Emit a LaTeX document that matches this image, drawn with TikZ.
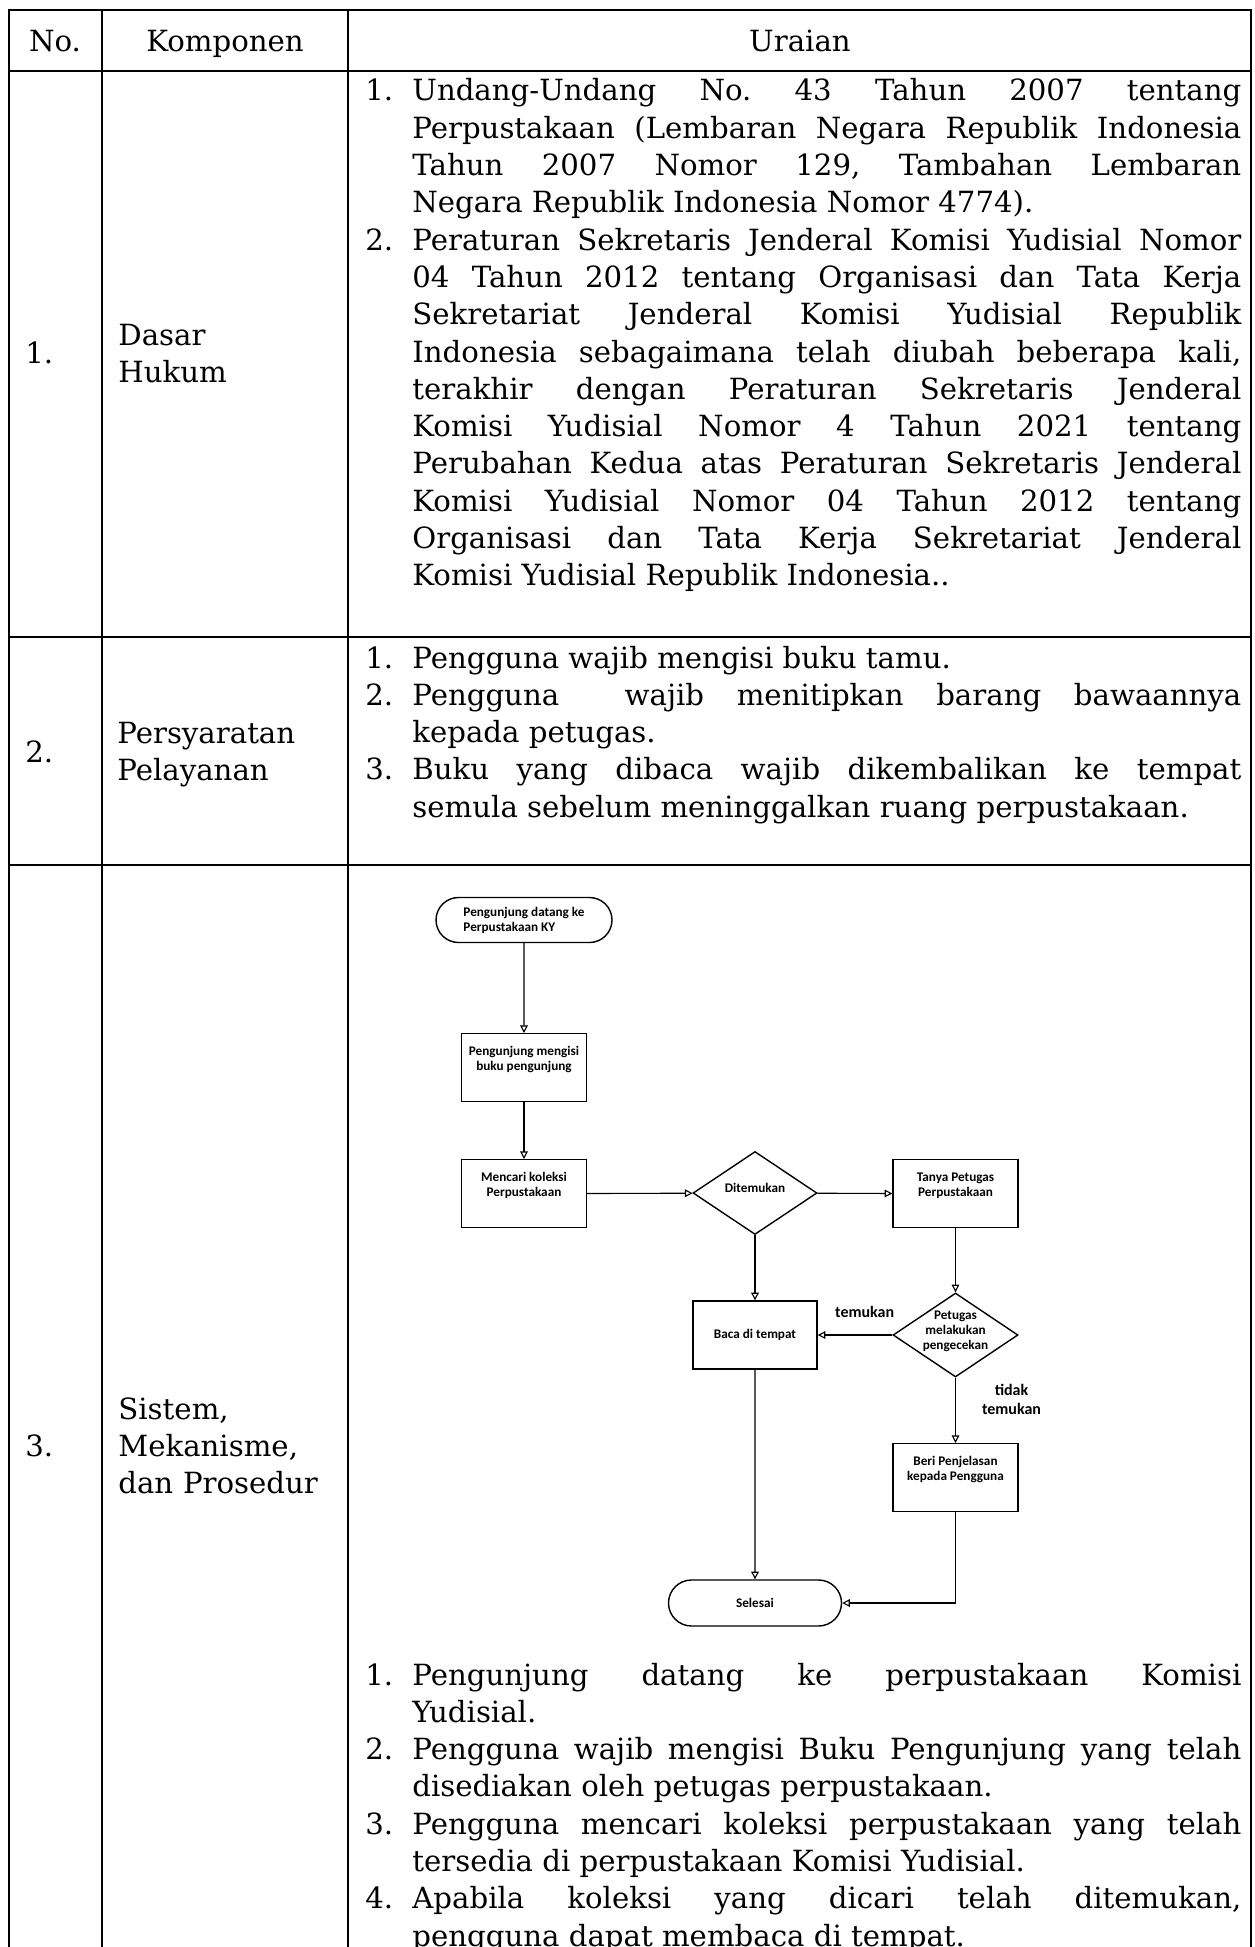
\documentclass[tikz,border=0pt]{standalone}
\usepackage{fontspec}
\setmainfont{DejaVu Serif}
\newfontfamily\fcfont{Carlito}
\usetikzlibrary{arrows.meta,shapes.geometric,shapes.misc}

\newcommand\bodyfont{\fontsize{14.6}{18.65}\selectfont\frenchspacing\hyphenpenalty=10000\exhyphenpenalty=10000\tolerance=10000\parindent=0pt\parskip=0pt}
\newcommand\fcsize{\fontsize{6.6}{7.5}\selectfont}
\newcommand\lblsize{\fontsize{8}{9.4}\selectfont}
\newcommand\fitem[2]{\hangindent=23.5pt\hangafter=1\noindent\makebox[23.5pt][l]{#1}#2\par}
\newcommand\boxtxt[1]{\parbox[c][34pt][t]{62pt}{\centering\rule{0pt}{11pt}#1}}
\newcommand\dtxt[1]{\makebox[0pt]{\smash{$\vcenter{\hbox{\begin{tabular}{@{}c@{}}#1\end{tabular}}}$}}}

\tikzset{
  tbl/.style={line width=1pt, line cap=rect},
  body/.style={inner sep=0pt, font=\bodyfont, anchor=base west},
  para/.style={body, text width=438pt, align=justify},
  lab/.style={body, text width=115pt, align=left},
  fc/.style={draw, line width=0.7pt, inner sep=0pt, font=\fcfont\bfseries\fcsize},
  proc/.style={fc, rectangle, minimum width=62.5pt, minimum height=34pt},
  term/.style={fc, rounded rectangle, minimum height=22.5pt},
  dec/.style={fc, diamond, minimum width=62pt, minimum height=41.5pt},
  flow/.style={line width=0.55pt, -{Triangle[open,length=3.8pt,width=3.8pt]}},
  lbl/.style={inner sep=0pt, font=\fcfont\bfseries\lblsize, align=center},
}

\begin{document}
\begin{tikzpicture}[x=0.5pt, y=-0.5pt]
\useasboundingbox (0,0) rectangle (1254,1947);
\clip (0,0) rectangle (1254,1947);

% table grid
\draw[tbl] (9,10) -- (1251,10);
\draw[tbl] (9,71) -- (1251,71);
\draw[tbl] (9,637) -- (1251,637);
\draw[tbl] (9,865) -- (1251,865);
\draw[tbl] (9,10) -- (9,1960);
\draw[tbl] (102,10) -- (102,1960);
\draw[tbl] (348,10) -- (348,1960);
\draw[tbl] (1251,10) -- (1251,1960);

% header
\node[body, anchor=base] (hno) at (55,52) {No.};
\node[body, anchor=base] (hkomp) at (225,52) {Komponen};
\node[body, anchor=base] (hur) at (800,52) {Uraian};

% row 1
\node[body] (n1) at (25,364) {1.};
\node[lab] (k1) at (118,345.5) {Dasar\\Hukum};
\node[para] (u1) at (365,101) {%
\fitem{1.}{Undang-Undang No. 43 Tahun 2007 tentang\linebreak Perpustakaan (Lembaran Negara Republik Indonesia\linebreak Tahun 2007 Nomor 129, Tambahan Lembaran\linebreak Negara Republik Indonesia Nomor 4774).}%
\fitem{2.}{Peraturan Sekretaris Jenderal Komisi Yudisial Nomor\linebreak 04 Tahun 2012 tentang Organisasi dan Tata Kerja\linebreak Sekretariat Jenderal Komisi Yudisial Republik\linebreak Indonesia sebagaimana telah diubah beberapa kali,\linebreak terakhir dengan Peraturan Sekretaris Jenderal\linebreak Komisi Yudisial Nomor 4 Tahun 2021 tentang\linebreak Perubahan Kedua atas Peraturan Sekretaris Jenderal\linebreak Komisi Yudisial Nomor 04 Tahun 2012 tentang\linebreak Organisasi dan Tata Kerja Sekretariat Jenderal\linebreak Komisi Yudisial Republik Indonesia..}};

% row 2
\node[body] (n2) at (25,762) {2.};
\node[lab] (k2) at (117,743) {Persyaratan\\Pelayanan};
\node[para] (u2) at (365,668) {%
\fitem{1.}{Pengguna wajib mengisi buku tamu.}%
\fitem{2.}{Pengguna\ \ wajib menitipkan barang bawaannya\linebreak kepada petugas.}%
\fitem{3.}{Buku yang dibaca wajib dikembalikan ke tempat\linebreak semula sebelum meninggalkan ruang perpustakaan.}};

% row 3
\node[body] (n3) at (25,1456) {3.};
\node[lab] (k3) at (118,1419) {Sistem,\\Mekanisme,\\dan Prosedur};
\node[para] (u3) at (365,1685) {%
\fitem{1.}{Pengunjung datang ke perpustakaan Komisi\linebreak Yudisial.}%
\fitem{2.}{Pengguna wajib mengisi Buku Pengunjung yang telah\linebreak disediakan oleh petugas perpustakaan.}%
\fitem{3.}{Pengguna mencari koleksi perpustakaan yang telah\linebreak tersedia di perpustakaan Komisi Yudisial.}%
\fitem{4.}{Apabila koleksi yang dicari telah ditemukan,\linebreak pengguna dapat membaca di tempat.}};

% flowchart
\node[term, minimum width=88pt, align=left] (start) at (524,920) {Pengunjung datang ke\\Perpustakaan KY};
\node[proc, anchor=north] (isi) at (524,1033) {\boxtxt{Pengunjung mengisi\\buku pengunjung}};
\node[proc, anchor=north] (cari) at (524,1159) {\boxtxt{Mencari koleksi\\Perpustakaan}};
\node[dec] (temu) at (755,1193) {\dtxt{Ditemukan}};
\node[proc, anchor=north] (tanya) at (955.5,1159) {\boxtxt{Tanya Petugas\\Perpustakaan}};
\node[proc, minimum width=62pt] (baca) at (755,1335) {Baca di tempat};
\node[dec, minimum width=62.5pt, minimum height=42pt] (cek) at (955.5,1335) {\dtxt{Petugas\\melakukan\\pengecekan}};
\node[proc, anchor=north] (beri) at (955.5,1443) {\boxtxt{Beri Penjelasan\\kepada Pengguna}};
\node[term, minimum width=86.5pt, minimum height=23pt] (selesai) at (755,1603) {Selesai};

\draw[flow] (start) -- (isi);
\draw[flow] (isi) -- (cari);
\draw[flow] (cari) -- (temu);
\draw[flow] (temu) -- (tanya);
\draw[flow] (temu) -- (baca);
\draw[flow] (tanya) -- (cek);
\draw[flow] (cek) -- node[lbl, pos=0.37, above=8.5pt] (ltemu) {temukan} (baca);
\draw[flow] (cek) -- node[lbl, pos=0.33, right=13pt] (ltidak) {tidak\\temukan} (beri);
\draw[flow] (baca) -- (selesai);
\draw[flow] (beri.south) |- (selesai.east);
\end{tikzpicture}
\end{document}
